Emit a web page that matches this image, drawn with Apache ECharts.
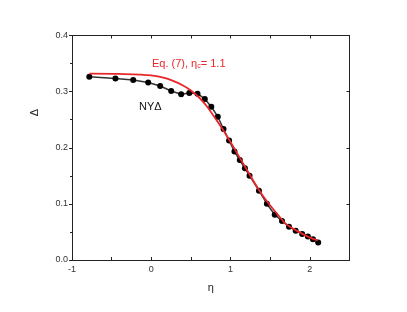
<!DOCTYPE html>
<html>
<head>
<meta charset="utf-8">
<script src="https://cdn.jsdelivr.net/npm/echarts@6/dist/echarts.min.js"></script>
<style>
html,body{margin:0;padding:0;background:#fff;}
#c{width:407px;height:312px;}
</style>
</head>
<body>
<div id="c"></div>
<script>
// NYΔ data points (η, Δ)
const etaData = [-0.782,-0.452,-0.228,-0.039,0.112,0.251,0.377,0.480,0.583,0.675,0.757,0.839,0.911,0.981,1.049,1.116,1.181,1.239,1.358,1.458,1.557,1.649,1.737,1.821,1.903,1.975,2.039,2.105];
const deltaData = [0.3266,0.3234,0.3207,0.3163,0.3100,0.3011,0.2952,0.2976,0.2963,0.2869,0.2731,0.2553,0.2334,0.2129,0.1933,0.1782,0.1634,0.1502,0.1235,0.1003,0.0807,0.0695,0.0593,0.0522,0.0463,0.0419,0.0369,0.0312];
// Eq. (7) curve
const etaFit = [-0.78,-0.4,0.0,0.2,0.4,0.5,0.6,0.7,0.8,0.9,1.0,1.1,1.2,1.3,1.4,1.5,1.6,1.7,1.8,1.9,2.0,2.1];
const deltaFit = [0.332,0.3315,0.329,0.323,0.311,0.302,0.290,0.274,0.254,0.233,0.210,0.186,0.162,0.138,0.116,0.097,0.080,0.064,0.055,0.047,0.040,0.035];
// axis ticks
const xTicks = [-1,0,1,2];
const yMin = 0, yMax = 0.4, yStep = 0.1;
const xMin = -1, xMax = 2.5, xStep = 0.5;

const font = 'Liberation Sans, Arial, Helvetica, sans-serif';
const chart = echarts.init(document.getElementById('c'), null, {renderer:'canvas'});
const axisLine = {show:true, onZero:false, lineStyle:{color:'#222', width:1}};
const option = {
  animation:false,
  backgroundColor:'#fff',
  grid:{left:72, top:35.5, right:57.5, bottom:52, containLabel:false},
  xAxis:[
    {type:'value', min:xMin, max:xMax, interval:xStep, position:'bottom',
     axisLine:axisLine,
     axisTick:{show:true, inside:true, length:3, lineStyle:{color:'#222'}},
     axisLabel:{color:'#333', fontSize:9, fontFamily:font, margin:5,
       formatter:v=> xTicks.some(t=>Math.abs(t-v)<1e-9) ? String(Math.round(v)) : ''},
     splitLine:{show:false},
     name:'η', nameLocation:'middle', nameGap:22,
     nameTextStyle:{color:'#222', fontSize:11, fontFamily:font}},
    {type:'value', min:xMin, max:xMax, interval:xStep, position:'top',
     axisLine:axisLine,
     axisTick:{show:true, inside:true, length:3, lineStyle:{color:'#222'}},
     axisLabel:{show:false}, splitLine:{show:false}}
  ],
  yAxis:[
    {type:'value', min:yMin, max:yMax, interval:yStep, position:'left',
     axisLine:axisLine,
     axisTick:{show:true, inside:false, length:3, lineStyle:{color:'#222'}},
     minorTick:{show:true, splitNumber:2, length:2, lineStyle:{color:'#222'}},
     axisLabel:{color:'#333', fontSize:9, fontFamily:font, margin:4, formatter:v=>v.toFixed(1)},
     splitLine:{show:false}, minorSplitLine:{show:false}},
    {type:'value', min:yMin, max:yMax, interval:yStep, position:'right',
     axisLine:axisLine,
     axisTick:{show:true, inside:true, length:3, lineStyle:{color:'#222'}},
     axisLabel:{show:false}, splitLine:{show:false}}
  ],
  graphic:[
    {type:'text', left:29, top:109, rotation:Math.PI/2,
     style:{text:'Δ', fill:'#222', font:'11px '+font}},
    {type:'text', left:139, top:101,
     style:{text:'NYΔ', fill:'#111', font:'11px '+font}},
    {type:'text', left:152, top:58,
     style:{text:'{a|Eq. (7), η}{s|c}{a|= 1.1}',
       rich:{a:{fill:'#e8262a', fontSize:11, fontFamily:font},
             s:{fill:'#e8262a', fontSize:7, fontFamily:font, padding:[6,0,0,0]}}}}
  ],
  series:[
    {type:'line', name:'NYΔ', xAxisIndex:0, yAxisIndex:0,
     data: etaData.map((x,i)=>[x, deltaData[i]]),
     symbol:'circle', symbolSize:6,
     itemStyle:{color:'#000'},
     lineStyle:{color:'#333', width:1.5}, z:2},
    {type:'line', name:'Eq. (7)', xAxisIndex:0, yAxisIndex:0,
     data: etaFit.map((x,i)=>[x, deltaFit[i]]),
     smooth:0.3, showSymbol:false, symbol:'none',
     lineStyle:{color:'#e8262a', width:1.8}, z:3}
  ]
};
chart.setOption(option);
</script>
</body>
</html>
